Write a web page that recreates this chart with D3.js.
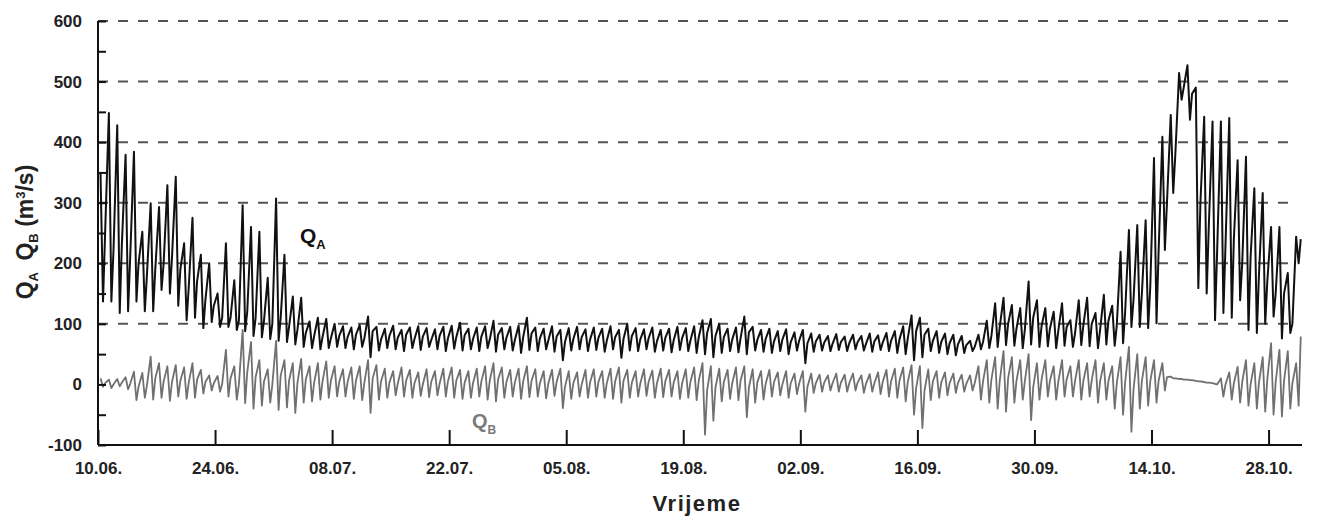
<!DOCTYPE html>
<html>
<head>
<meta charset="utf-8">
<script src="https://cdn.jsdelivr.net/npm/d3@7"></script>
<style>
body{margin:0;background:#fff;}
text{font-family:"Liberation Sans",Arial,sans-serif;font-weight:bold;}
</style>
</head>
<body>
<svg id="chart" width="1317" height="519"></svg>
<script>
// per day: peak, trough and an in-between value, day 0 = 10.06.
var qaHi = [349,448,428,379,384,252,299,293,329,343,233,275,214,200,150,
	233,172,296,260,252,176,307,214,145,143,104,110,108,100,
	96,94,98,112,95,92,97,90,94,96,93,91,95,97,102,
	92,94,96,105,93,95,97,110,94,92,96,90,93,95,91,
	94,92,96,90,100,93,91,94,90,92,95,93,96,106,108,
	100,92,94,112,95,90,92,88,91,86,90,84,82,80,83,
	79,82,80,84,81,85,88,96,114,110,92,88,84,82,80,
	72,82,105,134,143,131,126,170,139,126,120,134,106,139,143,118,148,130,
	219,255,263,271,374,409,445,514,527,490,442,434,434,440,370,376,324,316,260,260,184,244];
var qaLo = [137,137,118,121,137,121,121,156,150,130,106,110,93,103,95,
	95,90,88,80,78,75,72,70,66,62,60,58,60,62,
	60,58,62,45,56,60,58,55,60,57,62,58,55,59,56,
	58,55,60,54,58,56,52,57,55,58,54,40,56,58,55,
	57,54,58,44,56,55,58,54,56,53,57,55,52,50,45,
	52,55,53,50,56,54,52,55,50,56,35,54,56,55,57,
	55,58,56,54,57,55,52,50,40,45,55,52,50,48,52,
	55,58,60,62,65,64,60,66,62,63,60,64,62,65,63,60,66,64,
	68,95,95,93,101,222,316,470,437,159,150,106,118,110,139,90,85,100,112,76,85,200];
var qaMid = [250,220,230,210,200,180,190,200,210,190,160,170,140,130,110,
	110,105,120,110,105,100,110,95,90,85,80,78,76,80,
	78,82,76,88,74,80,77,82,75,79,73,80,76,78,81,
	75,79,74,82,77,73,78,84,76,72,79,70,75,78,74,
	77,72,78,75,80,74,76,71,77,73,76,72,78,85,80,
	78,74,76,86,73,75,71,74,70,72,68,71,69,67,70,
	68,70,67,71,69,72,74,76,88,82,72,70,68,66,65,
	62,70,80,95,100,92,90,110,96,92,88,95,84,98,100,90,105,98,
	120,140,150,160,220,300,380,490,480,300,260,220,230,240,200,210,180,170,150,150,100,240];
var qbHi = [10,8,9,12,21,19,46,35,30,32,28,35,24,15,14,
	57,30,90,70,40,25,72,40,35,42,30,35,38,30,
	25,28,30,40,32,26,22,28,24,20,25,22,26,28,24,
	22,26,30,35,28,24,26,30,25,22,24,26,22,20,24,
	25,22,26,28,24,22,25,23,26,24,22,25,28,35,30,
	26,24,28,30,25,22,24,20,22,18,22,18,16,15,18,
	16,18,15,17,20,24,26,28,32,30,25,22,20,18,16,
	15,30,40,45,55,45,40,50,35,40,30,40,30,40,35,40,35,30,
	45,62,50,45,40,35,13,9,8,6,4,2,10,20,29,40,35,45,68,57,55,35];
var qbLo = [-4,-6,-3,-8,-26,-22,-25,-22,-27,-20,-24,-22,-15,-10,-12,
	-20,-25,-31,-40,-35,-30,-42,-38,-47,-30,-28,-25,-22,-20,
	-20,-24,-26,-47,-25,-22,-18,-20,-22,-19,-21,-18,-20,-22,-24,
	-22,-20,-25,-28,-22,-20,-24,-21,-20,-23,-19,-39,-24,-20,-22,
	-20,-22,-24,-30,-22,-20,-19,-22,-21,-20,-24,-22,-26,-83,-60,
	-28,-24,-26,-54,-30,-25,-20,-18,-22,-16,-45,-14,-12,-10,-12,
	-12,-10,-14,-12,-16,-20,-22,-28,-50,-72,-26,-22,-18,-14,-12,
	-10,-25,-30,-40,-45,-30,-25,-59,-25,-20,-25,-20,-20,-25,-20,-30,-25,-40,
	-50,-78,-40,-35,-30,-10,10,9,7,5,3,1,-20,-25,-30,-35,-40,-45,-50,-53,-40,-35];
var qbMid = [2,0,3,1,-4,-2,10,5,4,6,3,8,4,2,1,
	10,0,20,12,5,0,15,6,2,8,3,5,6,4,
	4,6,2,10,5,3,1,6,2,0,4,1,5,6,3,
	2,5,6,8,4,3,5,6,2,1,4,-4,2,0,3,
	4,2,5,6,3,1,4,2,5,3,1,4,6,-10,-5,
	4,2,6,-5,3,1,4,0,2,1,-4,2,3,2,3,
	2,3,1,2,4,5,6,4,-6,-10,5,3,2,2,1,
	2,5,8,6,10,6,5,-5,8,6,4,8,5,6,7,5,6,2,
	4,-8,6,5,6,12,10,8,7,5,3,0,0,2,4,0,3,8,4,6,2,79];
var tickDays = [0,14,28,42,56,70,84,98,112,126,140];
var gridLevels = [100,200,300,400,500,600];
var yTicks = d3.range(-100,601,50);

var svg = d3.select("#chart");
var t0 = Date.UTC(2001,5,10);
function dayDate(d){ return new Date(t0 + d*86400000); }

var x = d3.scaleUtc().domain([dayDate(0), dayDate(144)]).range([98,1302]);
var y = d3.scaleLinear().domain([-100,600]).range([445,21]);

// dashed grid
svg.append("g").selectAll("line")
	.data(gridLevels)
	.enter()
	.append("line")
	.attr("x1",98).attr("x2",1298)
	.attr("y1",function(d){return y(d);})
	.attr("y2",function(d){return y(d);})
	.attr("stroke","#555")
	.attr("stroke-width",2)
	.attr("stroke-dasharray","10,10");

function pts(hi,lo,mid){
	var p = [];
	for(var i=0;i<hi.length;i++){
		p.push([i+0.3,hi[i]]);
		p.push([i+0.6,lo[i]]);
		p.push([i+0.85,mid[i]]);
	}
	return p;
}
var line = d3.line()
	.x(function(d){return x(dayDate(d[0]));})
	.y(function(d){return y(d[1]);});

svg.append("path")
	.attr("d",line(pts(qbHi,qbLo,qbMid)))
	.attr("fill","none")
	.attr("stroke","#707070")
	.attr("stroke-width",1.8)
	.attr("stroke-linejoin","round");

svg.append("path")
	.attr("d",line(pts(qaHi,qaLo,qaMid)))
	.attr("fill","none")
	.attr("stroke","#111")
	.attr("stroke-width",2)
	.attr("stroke-linejoin","round");

// axes
var yAxis = d3.axisLeft(y)
	.tickValues(yTicks)
	.tickSize(-8)
	.tickPadding(16)
	.tickFormat(function(d){return d%100==0 ? d : "";});
var gy = svg.append("g").attr("transform","translate(98,0)").call(yAxis);

var xAxis = d3.axisBottom(x)
	.tickValues(tickDays.map(dayDate))
	.tickSize(-15)
	.tickPadding(17)
	.tickFormat(d3.utcFormat("%d.%m."));
var gx = svg.append("g").attr("transform","translate(0,445)").call(xAxis);

[gx,gy].forEach(function(g){
	g.select(".domain").attr("stroke","#111").attr("stroke-width",2);
	g.selectAll(".tick line").attr("stroke","#111").attr("stroke-width",2);
	g.selectAll("text").attr("fill","#222").style("font-size","17px").style("font-family",null);
});
gx.select(".domain").attr("d","M98,0H1302");
gy.select(".domain").attr("d","M0,445V21");

// axis titles
svg.append("text")
	.attr("x",697).attr("y",511)
	.attr("text-anchor","middle")
	.style("font-size","22px")
	.style("letter-spacing","1.5px")
	.attr("fill","#222")
	.text("Vrijeme");

var yt = svg.append("text")
	.attr("transform","translate(33,232) rotate(-90)")
	.attr("text-anchor","middle")
	.style("font-size","23px")
	.attr("fill","#222");
yt.append("tspan").text("Q");
yt.append("tspan").attr("dy",5).style("font-size","13px").text("A");
yt.append("tspan").attr("dy",-5).text("\u2002Q");
yt.append("tspan").attr("dy",5).style("font-size","13px").text("B");
yt.append("tspan").attr("dy",-5).text(" (m");
yt.append("tspan").attr("dy",-8).style("font-size","13px").text("3");
yt.append("tspan").attr("dy",8).text("/s)");

// series labels
var la = svg.append("text").attr("x",300).attr("y",243).style("font-size","21px").attr("fill","#111");
la.append("tspan").text("Q");
la.append("tspan").attr("dy",6).style("font-size","13px").text("A");

var lb = svg.append("text").attr("x",472).attr("y",428).style("font-size","20px").attr("fill","#7a7a7a");
lb.append("tspan").text("Q");
lb.append("tspan").attr("dy",6).style("font-size","12px").text("B");
</script>
</body>
</html>
